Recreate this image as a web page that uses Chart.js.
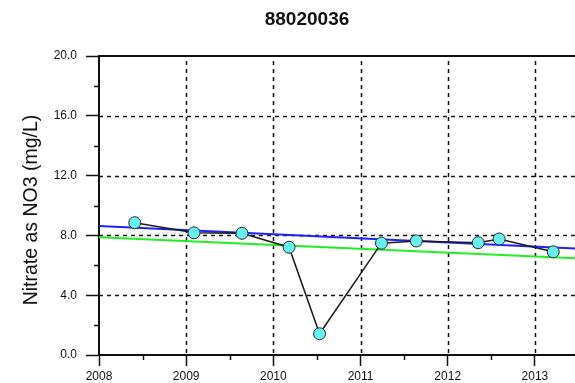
<!DOCTYPE html>
<html>
<head>
<meta charset="utf-8">
<script src="https://cdn.jsdelivr.net/npm/chart.js@4/dist/chart.umd.min.js"></script>
<style>
  html, body { margin: 0; padding: 0; background: #fff; }
  #wrap { width: 575px; height: 383px; position: relative; }
</style>
</head>
<body>
<div id="wrap"><canvas id="c" width="575" height="383"></canvas></div>
<script>
// Well 88020036 – nitrate samples (decimal year, mg/L as NO3)
const wellId = '88020036';
const sampleDates = [2008.41, 2009.09, 2009.64, 2010.18, 2010.53, 2011.24, 2011.64, 2012.35, 2012.59, 2013.21];
const nitrateValues = [8.85, 8.17, 8.14, 7.21, 1.42, 7.48, 7.63, 7.51, 7.76, 6.90];

// Trend lines, given by their two end points
const trendDates = [2008, 2013.46];
const blueTrend = [8.63, 7.12];
const greenTrend = [7.87, 6.47];

// Axes
const yearTicks = [2008, 2009, 2010, 2011, 2012, 2013];
const yearLabels = ['2008', '2009', '2010', '2011', '2012', '2013'];
const yTicks = [0, 4, 8, 12, 16, 20];
const yTickLabels = ['0.0', '4.0', '8.0', '12.0', '16.0', '20.0'];
const yMinorTicks = [2, 6, 10, 14, 18];
const xMinorTicks = [2008.5, 2009.5, 2010.5, 2011.5, 2012.5, 2013.5];
const yTitle = 'Nitrate as NO3 (mg/L)';

const INK = '#111';
const FONT = "'Liberation Sans', Arial, sans-serif";

const toPoints = (xs, ys) => xs.map((x, i) => ({ x, y: ys[i] }));

// Dashed grid, top rule and minor ticks
const framePlugin = {
  id: 'frame',
  beforeDatasetsDraw(chart) {
    const { ctx, chartArea: a, scales: { x, y } } = chart;
    ctx.save();
    ctx.strokeStyle = INK;
    ctx.lineWidth = 1.5;
    ctx.setLineDash([4, 4]);
    yearTicks.slice(1).forEach(v => {
      const px = Math.round(x.getPixelForValue(v)) + 0.5;
      ctx.beginPath(); ctx.moveTo(px, a.top + 5); ctx.lineTo(px, a.bottom); ctx.stroke();
    });
    yTicks.slice(1, -1).forEach(v => {
      const py = Math.round(y.getPixelForValue(v)) + 0.5;
      ctx.beginPath(); ctx.moveTo(a.left, py); ctx.lineTo(a.right, py); ctx.stroke();
    });
    ctx.setLineDash([]);
    ctx.lineWidth = 2;
    const top = y.getPixelForValue(20);
    ctx.beginPath(); ctx.moveTo(a.left, top); ctx.lineTo(a.right, top); ctx.stroke();
    ctx.lineWidth = 1.5;
    yMinorTicks.forEach(v => {
      const py = Math.round(y.getPixelForValue(v)) + 0.5;
      ctx.beginPath(); ctx.moveTo(a.left - 5, py); ctx.lineTo(a.left, py); ctx.stroke();
    });
    xMinorTicks.forEach(v => {
      const px = Math.round(x.getPixelForValue(v)) + 0.5;
      if (px > a.right) return;
      ctx.beginPath(); ctx.moveTo(px, a.bottom); ctx.lineTo(px, a.bottom + 5); ctx.stroke();
    });
    ctx.restore();
  },
  afterDraw(chart) {
    const { ctx } = chart;
    ctx.save();
    ctx.fillStyle = INK;
    ctx.textAlign = 'center';
    ctx.textBaseline = 'middle';
    ctx.font = 'bold 19px ' + FONT;
    ctx.fillText(wellId, 307, 20);
    ctx.translate(32, 210);
    ctx.rotate(-Math.PI / 2);
    ctx.font = '19.5px ' + FONT;
    ctx.fillText(yTitle, 0, 0);
    ctx.restore();
  }
};

new Chart(document.getElementById('c'), {
  type: 'line',
  data: {
    datasets: [
      {
        label: 'Samples',
        data: toPoints(sampleDates, nitrateValues),
        borderColor: '#1a1a1a',
        borderWidth: 1.5,
        pointRadius: 6,
        pointBackgroundColor: '#66f0f0',
        pointBorderColor: '#2a2a2a',
        pointBorderWidth: 1,
        tension: 0,
        order: 0
      },
      {
        label: 'Trend',
        data: toPoints(trendDates, blueTrend),
        borderColor: '#1f1fff',
        borderWidth: 2,
        pointRadius: 0,
        order: 1
      },
      {
        label: 'Trend 2',
        data: toPoints(trendDates, greenTrend),
        borderColor: '#22ee22',
        borderWidth: 2,
        pointRadius: 0,
        order: 2
      }
    ]
  },
  options: {
    responsive: false,
    animation: false,
    events: [],
    layout: { autoPadding: false, padding: { top: 56, right: 0, left: 0, bottom: 0 } },
    plugins: { legend: { display: false }, tooltip: { enabled: false }, title: { display: false } },
    scales: {
      x: {
        type: 'linear',
        min: trendDates[0],
        max: trendDates[1],
        afterBuildTicks: s => { s.ticks = yearTicks.map(v => ({ value: v })); },
        afterFit: s => { s.height = 28; s.paddingLeft = 0; s.paddingRight = 0; },
        ticks: {
          callback: (v, i) => yearLabels[i],
          color: INK,
          font: { family: FONT, size: 12 },
          padding: 3,
          maxRotation: 0,
          autoSkip: false
        },
        grid: { drawOnChartArea: false, drawTicks: true, tickLength: 11, tickColor: INK, tickWidth: 1.5 },
        border: { display: true, color: INK, width: 2 }
      },
      y: {
        type: 'linear',
        min: 0,
        max: 20,
        afterBuildTicks: s => { s.ticks = yTicks.map(v => ({ value: v })); },
        afterFit: s => { s.width = 99; s.paddingTop = 0; s.paddingBottom = 0; },
        ticks: {
          callback: (v, i) => yTickLabels[i],
          color: INK,
          font: { family: FONT, size: 12 },
          padding: 9
        },
        grid: { drawOnChartArea: false, drawTicks: true, tickLength: 13, tickColor: INK, tickWidth: 1.5 },
        border: { display: true, color: INK, width: 2 }
      }
    }
  },
  plugins: [framePlugin]
});
</script>
</body>
</html>
